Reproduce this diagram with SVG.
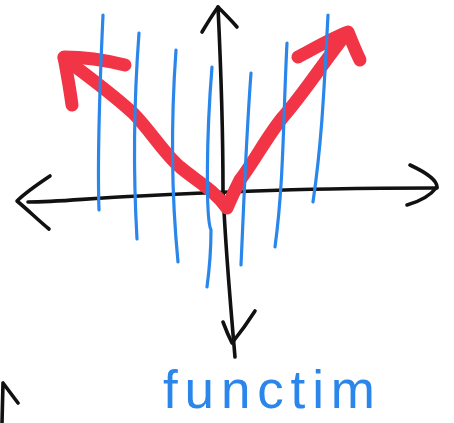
<svg xmlns="http://www.w3.org/2000/svg" width="454" height="423" viewBox="0 0 454 423">
<style>
.ink{fill:none;stroke:#111;stroke-width:3.6;stroke-linecap:round;stroke-linejoin:round}
.blue{fill:none;stroke:#2a86ea;stroke-width:3.2;stroke-linecap:round}
.red{fill:none;stroke:#f13546;stroke-width:13;stroke-linecap:round;stroke-linejoin:round}
.lbl{font-family:"Liberation Sans",Arial,sans-serif;font-size:53px;fill:#2a86ea}
</style>
<rect width="454" height="423" fill="#fff"/>
<g id="axes">
<path class="ink" d="M28,202 C60,202 90,198 140,196 C200,193 260,190 330,189 C380,188 410,188 437,188"/>
<path class="ink" d="M50,176 C38,184 26,192 17,201 C28,210 38,220 49,229"/>
<path class="ink" d="M410,165 C425,172 437,180 437,187 C430,196 418,202 407,205"/>
<path class="ink" d="M218,7 C221,70 223,140 223,190 C225,240 230,300 235,357"/>
<path class="ink" d="M202,32 C208,22 213,14 218,7 C225,14 231,20 237,27"/>
<path class="ink" d="M223,322 C226,330 229,337 232,343 C240,333 248,322 255,311"/>
<path class="ink" d="M18,403 L3,383 L2,423"/>
</g>
<g id="graph">
<path class="red" d="M64,58 C90,78 110,92 133,113 C150,130 165,155 180,167 C195,180 212,188 227,208 C232,196 236,188 240,180 C255,160 268,135 283,117 C305,92 325,60 347,33"/>
<path class="red" d="M125,65 C105,60 84,57 64,57 C67,73 70,90 72,105"/>
<path class="red" d="M298,57 C315,48 332,38 348,32 C352,42 356,52 360,60"/>
</g>
<g id="blue-lines">
<path class="blue" d="M103,15 C100,80 97,150 99,210"/>
<path class="blue" d="M139,33 C134,100 133,170 137,239"/>
<path class="blue" d="M176,50 C171,120 171,190 178,262"/>
<path class="blue" d="M212,67 C206,140 206,220 211,230 C211,255 209,272 207,287"/>
<path class="blue" d="M251,73 C246,140 244,200 241,265"/>
<path class="blue" d="M287,43 C283,120 284,180 275,247"/>
<path class="blue" d="M328,15 C324,90 322,140 313,202"/>
</g>
<g id="label">
<text class="lbl" x="163" y="408" textLength="212" lengthAdjust="spacing">functim</text>
</g>
</svg>
